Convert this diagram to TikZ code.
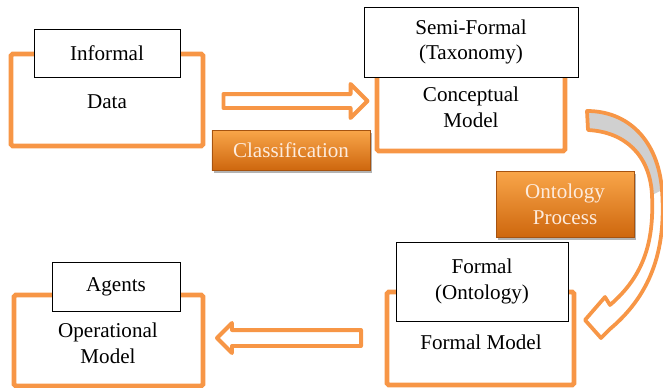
\documentclass[tikz,border=0pt]{standalone}
\usepackage{fontspec}
\setmainfont{Liberation Serif}
\usetikzlibrary{shapes.arrows,shadows}
\definecolor{frameorange}{HTML}{F79646}
\definecolor{proctop}{HTML}{F9A64A}
\definecolor{procmid}{HTML}{F28A1E}
\definecolor{procbot}{HTML}{CE670E}
\definecolor{procedge}{HTML}{A65310}
\definecolor{proctext}{HTML}{FDEBDD}
\definecolor{backgray}{HTML}{D0D0D0}

\begin{document}
\begin{tikzpicture}[x=0.03cm, y=-0.03cm,
    every node/.style={font=\fontsize{18}{22}\selectfont},
    frame/.style={rectangle, draw=frameorange, line width=4pt, rounded corners=1.5pt},
    tag/.style={rectangle, draw=black, fill=white, line width=0.8pt, align=center},
    body/.style={align=center},
    process/.style={rectangle, draw=procedge, line width=0.6pt, top color=proctop,
        middle color=procmid, bottom color=procbot, text=proctext, align=center,
        drop shadow={opacity=0.6, shadow xshift=1.5pt, shadow yshift=-2.5pt}},
    blockarrow/.style={single arrow, draw=frameorange, line width=3.4pt, fill=white,
        line join=round, single arrow tip angle=90, inner xsep=0pt,
        minimum height=4.32cm}]

\useasboundingbox (0,0) rectangle (663,388);

% outer frames
\node[frame, minimum width=5.76cm, minimum height=2.76cm] (data) at (107,100) {};
\node[frame, minimum width=5.64cm, minimum height=2.73cm] (concept) at (471,105.5) {};
\node[frame, minimum width=5.61cm, minimum height=2.79cm] (formal) at (480.5,338.5) {};
\node[frame, minimum width=5.67cm, minimum height=2.73cm] (oper) at (108.5,340.5) {};

% contents
\node[body] (datatext) at (107,102) {Data};
\node[body] (concepttext) at (471,107.5) {Conceptual\\Model};
\node[body] (formaltext) at (481,342) {Formal Model};
\node[body] (opertext) at (108,343) {Operational\\Model};

% tags
\node[tag, minimum width=4.38cm, minimum height=1.44cm] (informal) at (107,53) {Informal};
\node[tag, minimum width=6.42cm, minimum height=2.1cm] (semiformal) at (471,42) {Semi-Formal\\(Taxonomy)};
\node[tag, minimum width=5.16cm, minimum height=2.37cm] (formaltag) at (482,281.5) {Formal\\(Ontology)};
\node[tag, minimum width=3.84cm, minimum height=1.47cm] (agents) at (116,286.5) {Agents};

% processes
\node[process, minimum width=4.74cm, minimum height=1.2cm] (classify) at (291,150) {Classification};
\node[process, minimum width=4.14cm, minimum height=1.98cm] (ontoproc) at (565,204) {Ontology\\Process};

% block arrows
\node[blockarrow, inner ysep=0.15cm, single arrow head extend=0.3cm] (toconcept) at (292,101) {};
\node[blockarrow, inner ysep=0.18cm, single arrow head extend=0.21cm,
    shape border rotate=180] (tooper) at (293,338) {};

% curved arrow
\fill[backgray] (587,111) .. controls (628,111) and (658,140) .. (662,190)
    -- (652,195) .. controls (650,155) and (625,132) .. (588,130) -- cycle;
\draw[frameorange, line width=3.2pt, line join=round]
    (587,111) .. controls (628,111) and (658,140) .. (662,190)
    .. controls (666,245) and (654,292) .. (610,329)
    -- (601,338) -- (585,320) -- (605,297) -- (610,305)
    .. controls (645,275) and (654,240) .. (652,195)
    .. controls (650,155) and (625,132) .. (588,130) -- cycle;
\end{tikzpicture}
\end{document}
